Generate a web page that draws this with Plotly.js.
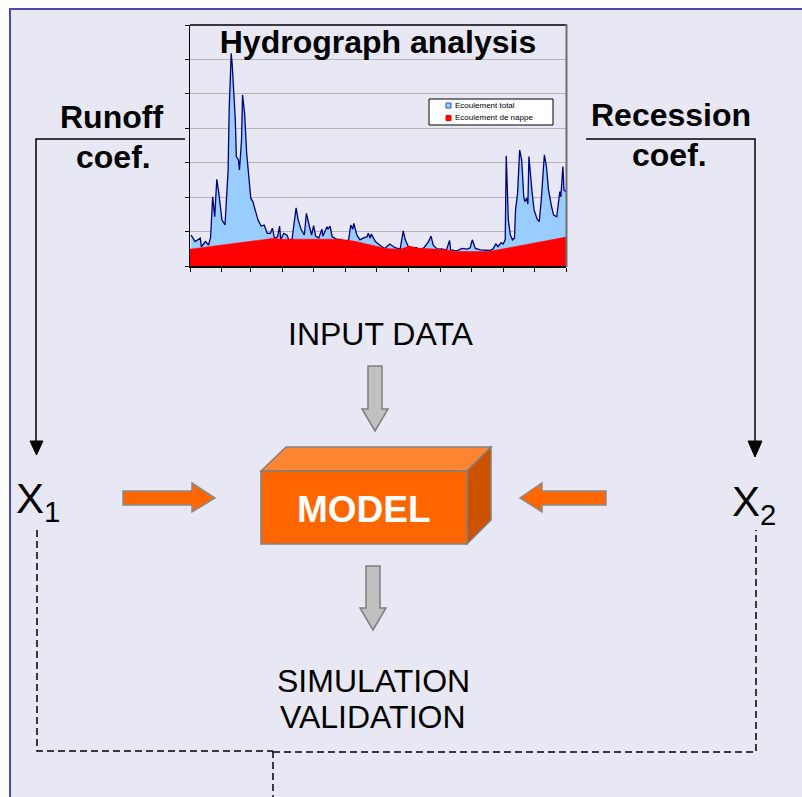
<!DOCTYPE html>
<html>
<head>
<meta charset="utf-8">
<script src="https://cdn.plot.ly/plotly-3.0.1.min.js"></script>
<style>html,body{margin:0;padding:0;background:#fff;}#chart{width:802px;height:797px;}</style>
</head>
<body>
<div id="chart"></div>
<script>
// ---- Hydrograph data (day of year, flow in chart units) ----
const totalDays = [1,5,10,11,15,18,20,22,24,26,28,29,31,34,37,38,40,41,44,45,47,48,50,51,53,55,58,59,61,64,66,69,72,75,78,80,82,85,87,88,91,94,96,99,103,105,108,111,113,116,118,120,122,125,128,129,133,134,136,138,142,147,151,154,156,158,159,162,165,168,172,173,175,176,180,184,189,194,199,204,207,209,212,215,220,223,227,231,234,236,240,244,249,252,253,259,264,269,272,274,277,282,286,291,294,297,299,302,304,306,307,309,311,313,315,316,318,320,322,324,325,327,328,329,332,334,337,339,341,344,346,348,351,353,356,359,360,362,363,365];
const totalFlow = [0.90,0.71,0.81,0.56,0.71,0.61,0.83,2.01,1.43,2.52,2.11,1.82,1.34,1.19,2.79,4.53,6.18,5.84,4.24,3.18,3.08,2.79,3.66,4.97,4.44,3.28,2.31,1.97,1.87,1.58,1.34,1.16,1.19,0.95,0.95,1.10,0.81,0.85,1.16,0.76,0.95,0.90,0.76,0.76,1.69,1.34,1.05,0.90,1.53,1.14,0.90,1.17,0.87,0.81,1.07,0.87,1.14,1.07,1.16,0.85,0.78,0.76,0.68,0.76,1.19,1.07,1.24,0.90,0.76,0.81,0.85,0.95,0.81,0.93,0.71,0.61,0.51,0.64,0.53,0.49,1.02,0.76,0.56,0.51,0.53,0.47,0.53,0.68,0.87,0.61,0.49,0.50,0.47,0.74,0.47,0.44,0.51,0.49,0.53,0.76,0.51,0.47,0.47,0.45,0.49,0.64,0.56,0.68,0.64,0.76,3.20,1.34,0.90,0.76,0.81,1.63,2.11,3.37,3.08,2.01,1.87,1.97,1.80,3.18,2.16,1.63,1.36,1.29,1.92,3.23,2.89,2.21,1.72,1.48,1.43,2.16,2.01,2.89,2.21,2.16];
const baseDays = [0,83,87,146,160,190,204,213,220,250,258,290,365];
const baseFlow = [0.49,0.81,0.78,0.78,0.72,0.51,0.49,0.58,0.52,0.47,0.42,0.42,0.84];
const monthTicks = [0,31,59,90,120,151,181,212,243,273,304,334,365];
const seriesNames = ["Ecoulement total","Ecoulement de nappe"];
const seriesFill = ["#99CCFF","#FF0000"];
const seriesLine = ["#000080","#FF0000"];

// ---- Diagram labels ----
const chartTitle = "Hydrograph analysis";
const leftLabel = ["Runoff","coef."];
const rightLabel = ["Recession","coef."];
const inputLabel = "INPUT DATA";
const modelLabel = "MODEL";
const outputLabel = ["SIMULATION","VALIDATION"];
const paramLabels = ["X<sub>1</sub>","X<sub>2</sub>"];

const W = 802, H = 797;
const fx = p => p / W;
const fy = p => 1 - p / H;
function path(pts){ return 'M' + pts.map(p => fx(p[0]) + ',' + fy(p[1])).join('L') + 'Z'; }
function openPath(pts){ return 'M' + pts.map(p => fx(p[0]) + ',' + fy(p[1])).join('L'); }

const FONT = "Liberation Sans, Arial, sans-serif";
const ORANGE = "#FF6600";
const P = {xref:'paper', yref:'paper'};
const shapes = [];
// background panel
shapes.push(Object.assign({type:'rect', x0:fx(10), x1:fx(810), y0:fy(9), y1:fy(805),
  fillcolor:'#E8E8F5', line:{color:'#4A4AAE', width:2}, layer:'below'}, P));
// hydrograph frame top & right
shapes.push(Object.assign({type:'line', x0:fx(190), x1:fx(566), y0:fy(25), y1:fy(25), line:{color:'#000', width:1.5}}, P));
shapes.push(Object.assign({type:'line', x0:fx(566.5), x1:fx(566.5), y0:fy(24), y1:fy(267), line:{color:'#6e6e6e', width:2}}, P));
// legend box (manual, compact like the reference)
shapes.push(Object.assign({type:'rect', x0:fx(429), x1:fx(553), y0:fy(99), y1:fy(125), fillcolor:'#fff', line:{color:'#000', width:1}}, P));
shapes.push(Object.assign({type:'rect', x0:fx(446), x1:fx(451), y0:fy(103), y1:fy(108), fillcolor:seriesFill[0], line:{color:'#3050c0', width:1}}, P));
shapes.push(Object.assign({type:'rect', x0:fx(446), x1:fx(451), y0:fy(115.5), y1:fy(120.5), fillcolor:seriesFill[1], line:{color:seriesFill[1], width:1}}, P));
// connectors
shapes.push(Object.assign({type:'path', path:openPath([[185,139],[36,139],[36,443]]), line:{color:'#000', width:1.5}}, P));
shapes.push(Object.assign({type:'path', path:path([[30,441],[43,441],[36.5,455]]), fillcolor:'#000', line:{color:'#000', width:1}}, P));
shapes.push(Object.assign({type:'path', path:openPath([[586,139],[755,139],[755,443]]), line:{color:'#000', width:1.5}}, P));
shapes.push(Object.assign({type:'path', path:path([[748,441],[762,441],[755,457]]), fillcolor:'#000', line:{color:'#000', width:1}}, P));
// dashed feedback
const dash = {color:'#000', width:1.5, dash:'7px,4px'};
shapes.push(Object.assign({type:'path', path:openPath([[37,530],[37,751],[273,751]]), line:dash}, P));
shapes.push(Object.assign({type:'path', path:openPath([[273,752],[756,752],[756,530]]), line:dash}, P));
shapes.push(Object.assign({type:'path', path:openPath([[273,751],[273,800]]), line:dash}, P));
// gray arrows
const grayArrow = (cx, y0, y1, y2) => path([[cx-7,y0],[cx+7,y0],[cx+7,y1],[cx+13,y1],[cx,y2],[cx-13,y1],[cx-7,y1]]);
shapes.push(Object.assign({type:'path', path:grayArrow(375,366,409,431), fillcolor:'#C0C0C0', line:{color:'#7f7f7f', width:1.5}}, P));
shapes.push(Object.assign({type:'path', path:grayArrow(373,566,608,630), fillcolor:'#C0C0C0', line:{color:'#7f7f7f', width:1.5}}, P));
// orange arrows
shapes.push(Object.assign({type:'path', path:path([[123,491],[192,491],[192,483],[215,498],[192,512],[192,505],[123,505]]), fillcolor:ORANGE, line:{color:'#8a8a8a', width:1.5}}, P));
shapes.push(Object.assign({type:'path', path:path([[606,491],[542,491],[542,483],[520,498],[542,512],[542,505],[606,505]]), fillcolor:ORANGE, line:{color:'#8a8a8a', width:1.5}}, P));
// model box
shapes.push(Object.assign({type:'path', path:path([[261,471],[286,447],[491,447],[467,471]]), fillcolor:'#FF8533', line:{color:'#808080', width:1.5}}, P));
shapes.push(Object.assign({type:'path', path:path([[467,471],[491,447],[491,520],[467,544]]), fillcolor:'#CC5200', line:{color:'#808080', width:1.5}}, P));
shapes.push(Object.assign({type:'rect', x0:fx(261), x1:fx(467), y0:fy(471), y1:fy(544), fillcolor:ORANGE, line:{color:'#808080', width:1.5}}, P));

const ann = (text, x, y, size, opts) => Object.assign({text:text, xref:'paper', yref:'paper', x:fx(x), y:fy(y),
  xanchor:'center', yanchor:'middle', showarrow:false, font:{family:FONT, size:size, color:'#000'}}, opts||{});
const annotations = [
  ann('<b>'+leftLabel[0]+'</b>', 112, 117, 32),
  ann('<b>'+leftLabel[1]+'</b>', 113, 157, 32),
  ann('<b>'+rightLabel[0]+'</b>', 671, 115, 32),
  ann('<b>'+rightLabel[1]+'</b>', 669, 155, 32),
  ann(inputLabel, 381, 334, 32),
  ann('<b>'+modelLabel+'</b>', 364, 509, 37, {font:{family:FONT, size:37, color:'#fff'}}),
  ann(outputLabel[0], 373, 681, 32),
  ann(outputLabel[1], 373, 717, 32),
  ann(paramLabels[0], 14, 502, 42, {xanchor:'left'}),
  ann(paramLabels[1], 730, 504, 42, {xanchor:'left'}),
  ann(seriesNames[0], 453, 105.5, 8, {xanchor:'left'}),
  ann(seriesNames[1], 453, 118, 8, {xanchor:'left'})
];

const data = [
  {x: totalDays, y: totalFlow, name: seriesNames[0], type:'scatter', mode:'lines', fill:'tozeroy',
   fillcolor:seriesFill[0], line:{color:seriesLine[0], width:1.3}},
  {x: baseDays, y: baseFlow, name: seriesNames[1], type:'scatter', mode:'lines', fill:'tozeroy',
   fillcolor:seriesFill[1], line:{color:seriesLine[1], width:0.5}}
];

const layout = {
  width: W, height: H, autosize:false,
  margin:{l:0, r:0, t:0, b:0},
  paper_bgcolor:'#FFFFFF', plot_bgcolor:'#FFFFFF',
  title:{text:'<b>'+chartTitle+'</b>', x:fx(378), y:fy(42), xref:'paper', yref:'paper',
    xanchor:'center', yanchor:'middle', font:{family:FONT, size:32, color:'#000'}},
  xaxis:{domain:[fx(190), fx(566)], range:[0,365], tickvals:monthTicks, ticks:'outside', ticklen:4,
    tickcolor:'#000', showticklabels:false, showgrid:false, zeroline:false, showline:true,
    linecolor:'#000', linewidth:1.5, fixedrange:true},
  yaxis:{domain:[fy(266), fy(25)], range:[0,7], dtick:1, ticks:'outside', ticklen:4, tickcolor:'#000',
    showticklabels:false, showgrid:true, gridcolor:'#B5B5B5', gridwidth:1, zeroline:false,
    showline:true, linecolor:'#000', linewidth:1.5, fixedrange:true},
  showlegend:false,
  shapes: shapes,
  annotations: annotations
};

Plotly.newPlot('chart', data, layout, {displayModeBar:false, staticPlot:true});
</script>
</body>
</html>
